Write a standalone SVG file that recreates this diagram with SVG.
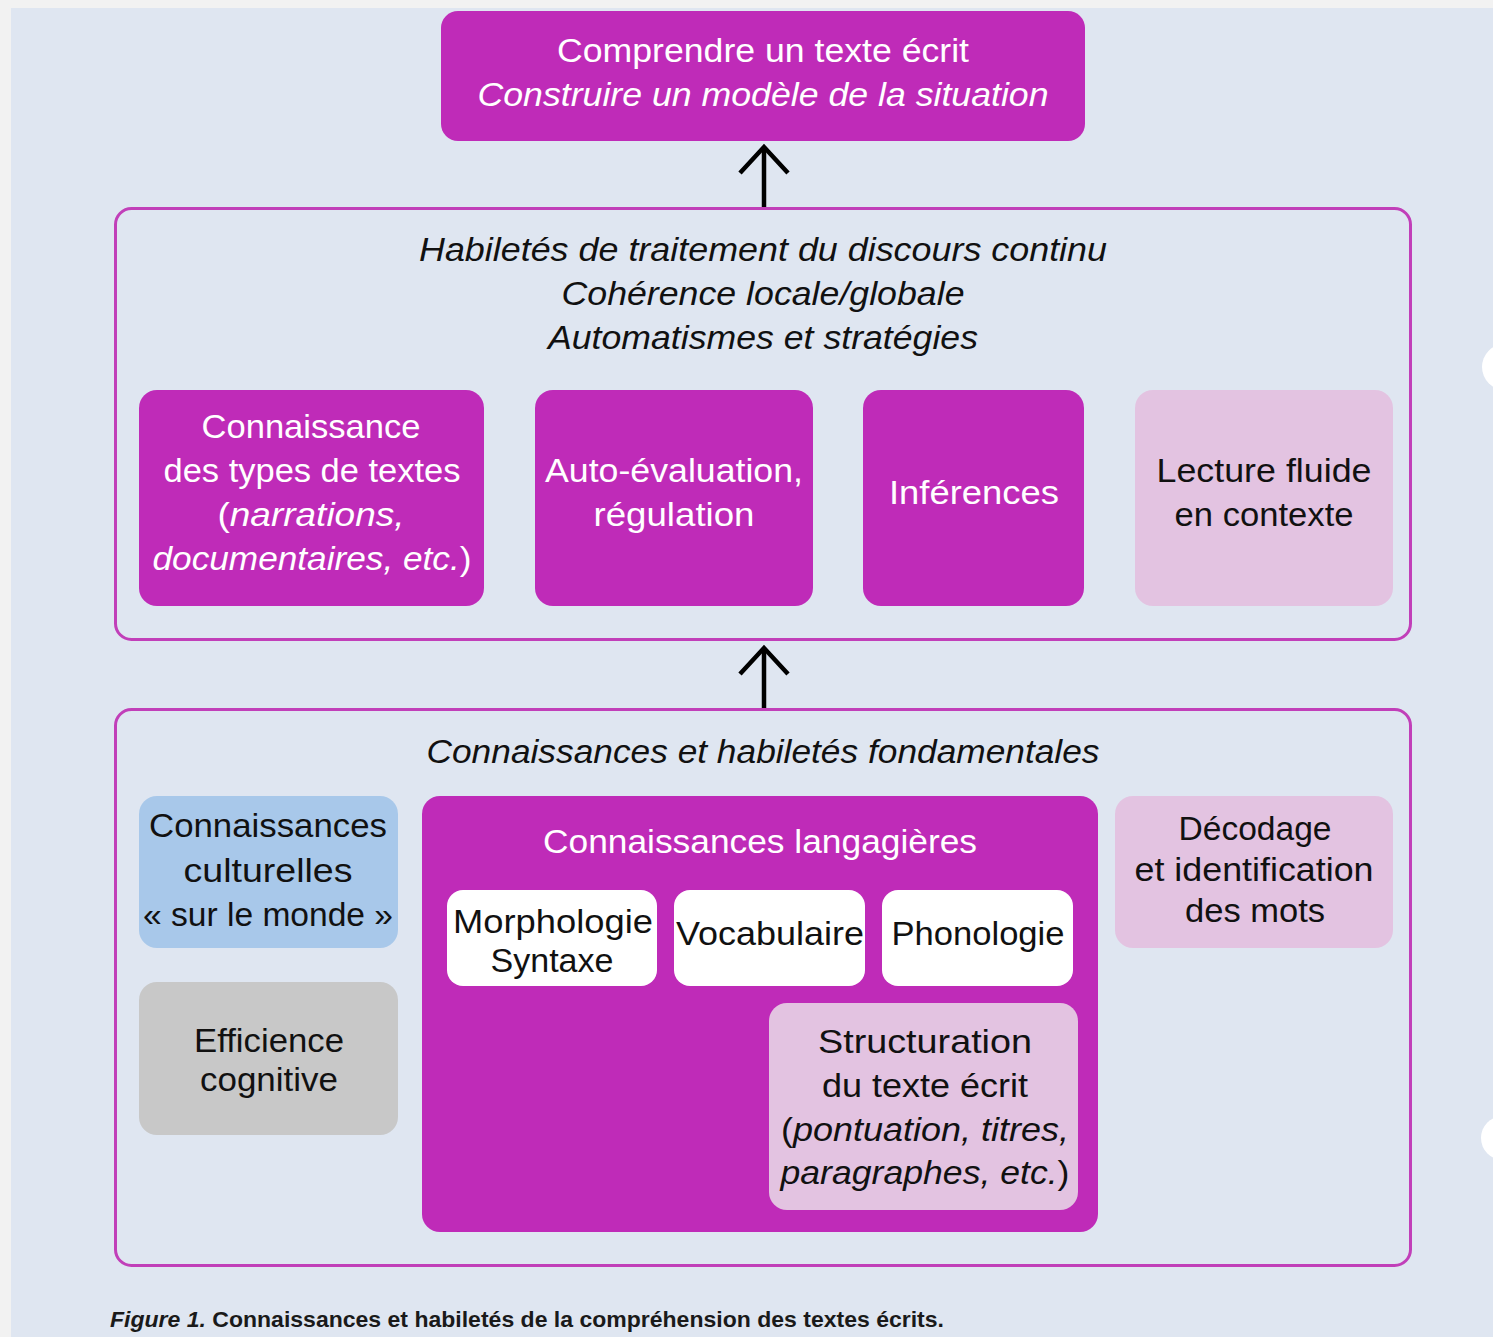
<svg xmlns="http://www.w3.org/2000/svg" width="1493" height="1337" viewBox="0 0 1493 1337">
<style>
text{font-family:"Liberation Sans",Arial,sans-serif;text-anchor:middle}
.w{fill:#ffffff}
.k{fill:#111111}
.it{font-style:italic}
.up{font-style:normal}
.m{fill:#bf2bb8}
.pk{fill:#e3c3e1}
.frame{fill:none;stroke:#c13fb9;stroke-width:3}
.arrow{fill:none;stroke:#000;stroke-width:4.5}
.t1{font-size:33px}
.t2{font-size:34px}
</style>
<rect x="0" y="0" width="1493" height="1337" fill="#f2f2f2"/>
<rect x="11" y="8" width="1482" height="1329" fill="#dfe6f1"/>
<circle cx="1505" cy="367" r="23" fill="#ffffff"/>
<circle cx="1503" cy="1138" r="22" fill="#ffffff"/>

<g id="connectors">
<line class="arrow" x1="764" y1="207" x2="764" y2="147"/>
<polyline class="arrow" points="740,173 764,147 788,173"/>
<line class="arrow" x1="764" y1="708" x2="764" y2="648"/>
<polyline class="arrow" points="740,674 764,648 788,674"/>
</g>

<g id="top">
<rect class="m" x="441" y="11" width="644" height="130" rx="17"/>
<text class="w t1" x="763" y="62" textLength="412" lengthAdjust="spacingAndGlyphs">Comprendre un texte écrit</text>
<text class="w t1 it" x="763" y="106" textLength="571" lengthAdjust="spacingAndGlyphs">Construire un modèle de la situation</text>
</g>

<g id="discours">
<rect class="frame" x="115.5" y="208.5" width="1295" height="431" rx="16"/>
<text class="k t1 it" x="763" y="261" textLength="688" lengthAdjust="spacingAndGlyphs">Habiletés de traitement du discours continu</text>
<text class="k t1 it" x="763" y="305" textLength="403" lengthAdjust="spacingAndGlyphs">Cohérence locale/globale</text>
<text class="k t1 it" x="763" y="349" textLength="430" lengthAdjust="spacingAndGlyphs">Automatismes et stratégies</text>
</g>

<g id="types-textes">
<rect class="m" x="139" y="390" width="345" height="216" rx="18"/>
<text class="w t1" x="311" y="438" textLength="219" lengthAdjust="spacingAndGlyphs">Connaissance</text>
<text class="w t1" x="312" y="482" textLength="297" lengthAdjust="spacingAndGlyphs">des types de textes</text>
<text class="w t1" x="311" y="526" textLength="187" lengthAdjust="spacingAndGlyphs">(<tspan class="it">narrations,</tspan></text>
<text class="w t1" x="312" y="570" textLength="319" lengthAdjust="spacingAndGlyphs"><tspan class="it">documentaires, etc.</tspan>)</text>
</g>

<g id="auto-evaluation">
<rect class="m" x="535" y="390" width="278" height="216" rx="18"/>
<text class="w t1" x="674" y="482" textLength="258" lengthAdjust="spacingAndGlyphs">Auto-évaluation,</text>
<text class="w t1" x="674" y="526" textLength="161" lengthAdjust="spacingAndGlyphs">régulation</text>
</g>

<g id="inferences">
<rect class="m" x="863" y="390" width="221" height="216" rx="18"/>
<text class="w t1" x="974" y="504" textLength="170" lengthAdjust="spacingAndGlyphs">Inférences</text>
</g>

<g id="lecture-fluide">
<rect class="pk" x="1135" y="390" width="258" height="216" rx="18"/>
<text class="k t1" x="1264" y="482" textLength="215" lengthAdjust="spacingAndGlyphs">Lecture fluide</text>
<text class="k t1" x="1264" y="526" textLength="179" lengthAdjust="spacingAndGlyphs">en contexte</text>
</g>

<g id="fondamentales">
<rect class="frame" x="115.5" y="709.5" width="1295" height="556" rx="16"/>
<text class="k t1 it" x="763" y="763" textLength="673" lengthAdjust="spacingAndGlyphs">Connaissances et habiletés fondamentales</text>
</g>

<g id="culturelles">
<rect x="139" y="796" width="259" height="152" rx="18" fill="#a8c8ea"/>
<text class="k t2" x="268" y="837" textLength="238" lengthAdjust="spacingAndGlyphs">Connaissances</text>
<text class="k t2" x="268" y="882" textLength="169" lengthAdjust="spacingAndGlyphs">culturelles</text>
<text class="k t2" x="268" y="926" textLength="250" lengthAdjust="spacingAndGlyphs">« sur le monde »</text>
</g>

<g id="efficience">
<rect x="139" y="982" width="259" height="153" rx="18" fill="#c8c8c8"/>
<text class="k t2" x="269" y="1052" textLength="150" lengthAdjust="spacingAndGlyphs">Efficience</text>
<text class="k t2" x="269" y="1091" textLength="138" lengthAdjust="spacingAndGlyphs">cognitive</text>
</g>

<g id="langagieres">
<rect class="m" x="422" y="796" width="676" height="436" rx="18"/>
<text class="w t1" x="760" y="853" textLength="434" lengthAdjust="spacingAndGlyphs">Connaissances langagières</text>
</g>

<g id="morphologie">
<rect x="447" y="890" width="210" height="96" rx="16" fill="#ffffff"/>
<text class="k t2" x="553" y="933" textLength="200" lengthAdjust="spacingAndGlyphs">Morphologie</text>
<text class="k t2" x="552" y="972" textLength="123" lengthAdjust="spacingAndGlyphs">Syntaxe</text>
</g>

<g id="vocabulaire">
<rect x="674" y="890" width="191" height="96" rx="16" fill="#ffffff"/>
<text class="k t2" x="770" y="945" textLength="188" lengthAdjust="spacingAndGlyphs">Vocabulaire</text>
</g>

<g id="phonologie">
<rect x="882" y="890" width="191" height="96" rx="16" fill="#ffffff"/>
<text class="k t2" x="978" y="945" textLength="173" lengthAdjust="spacingAndGlyphs">Phonologie</text>
</g>

<g id="structuration">
<rect class="pk" x="769" y="1003" width="309" height="207" rx="18"/>
<text class="k t2" x="925" y="1053" textLength="214" lengthAdjust="spacingAndGlyphs">Structuration</text>
<text class="k t2" x="925" y="1097" textLength="206" lengthAdjust="spacingAndGlyphs">du texte écrit</text>
<text class="k t2" x="925" y="1141" textLength="288" lengthAdjust="spacingAndGlyphs">(<tspan class="it">pontuation, titres,</tspan></text>
<text class="k t2" x="925" y="1184" textLength="289" lengthAdjust="spacingAndGlyphs"><tspan class="it">paragraphes, etc.</tspan>)</text>
</g>

<g id="decodage">
<rect class="pk" x="1115" y="796" width="278" height="152" rx="18"/>
<text class="k t2" x="1255" y="840" textLength="153" lengthAdjust="spacingAndGlyphs">Décodage</text>
<text class="k t2" x="1254" y="881" textLength="239" lengthAdjust="spacingAndGlyphs">et identification</text>
<text class="k t2" x="1255" y="922" textLength="140" lengthAdjust="spacingAndGlyphs">des mots</text>
</g>

<text x="110" y="1327" style="text-anchor:start;font-size:22px;font-weight:bold" fill="#1a1a1a" textLength="834" lengthAdjust="spacingAndGlyphs"><tspan font-style="italic">Figure 1.</tspan> Connaissances et habiletés de la compréhension des textes écrits.</text>
</svg>
